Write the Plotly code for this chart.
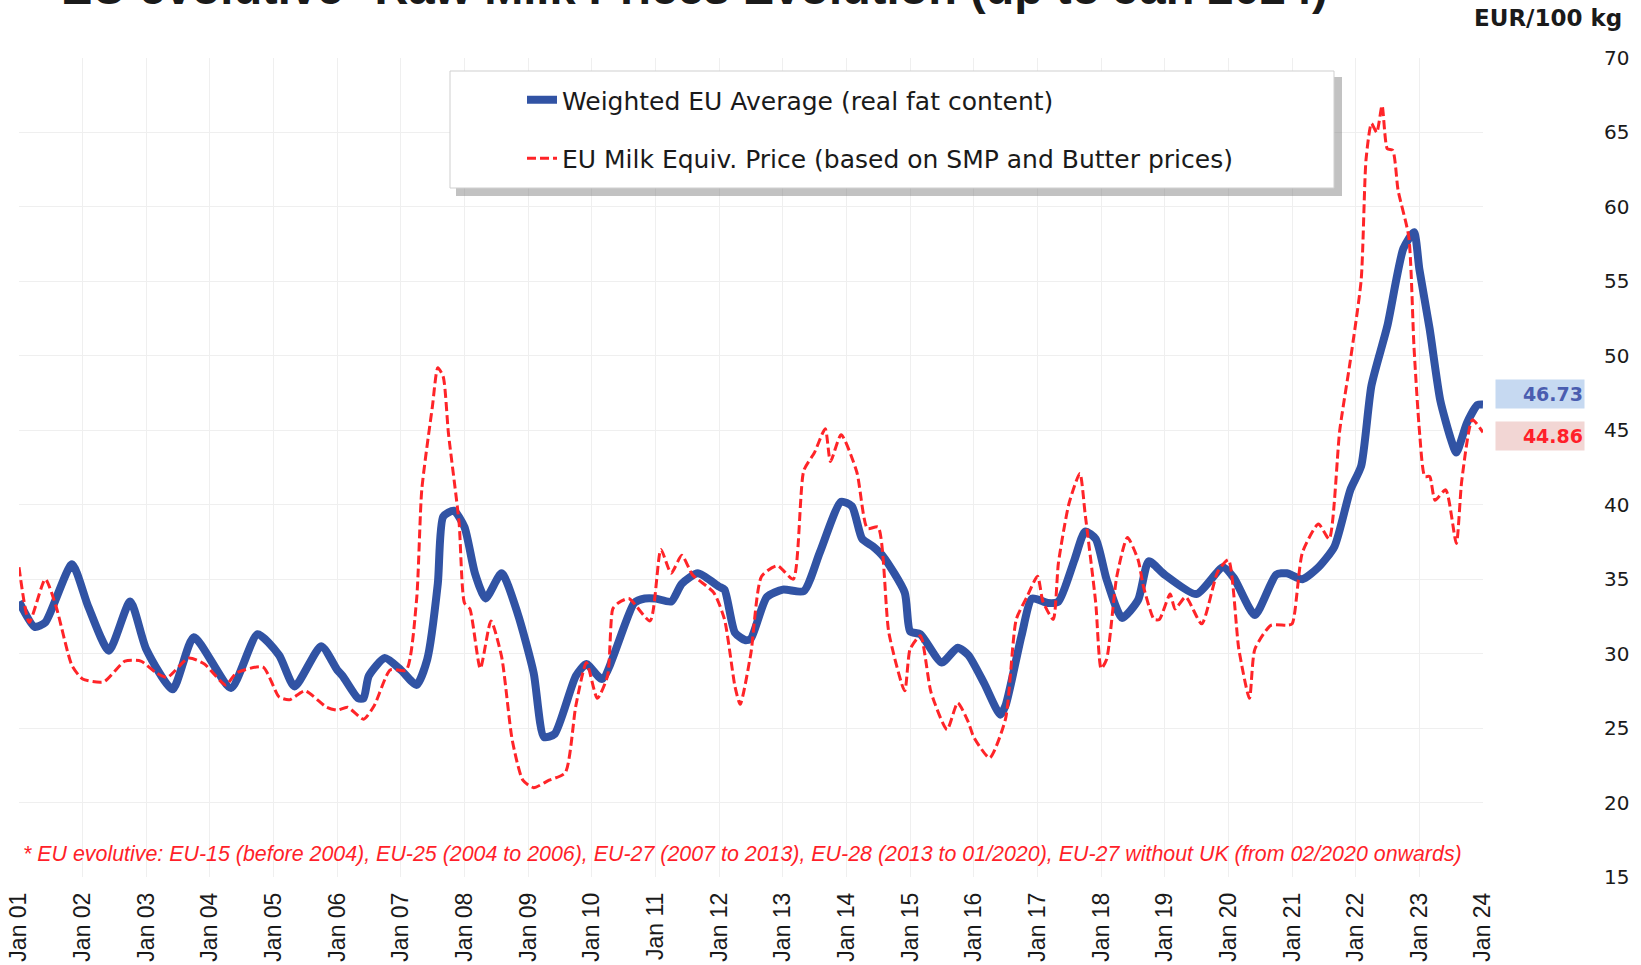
import plotly.graph_objects as go

# ---------------- data ----------------
avg_dates = ["2001-01", "2001-04", "2001-06", "2001-11", "2002-02", "2002-06", "2002-10",
             "2003-01", "2003-06", "2003-10", "2004-05", "2004-10", "2005-02", "2005-05",
             "2005-10", "2006-01", "2006-02", "2006-05", "2006-06", "2006-07", "2006-10",
             "2007-01", "2007-04", "2007-06", "2007-08", "2007-09", "2007-11", "2008-01",
             "2008-03", "2008-05", "2008-08", "2008-11", "2009-02", "2009-04", "2009-06",
             "2009-10", "2009-12", "2010-03", "2010-09", "2010-11", "2011-01", "2011-04",
             "2011-06", "2011-09", "2012-01", "2012-02", "2012-04", "2012-06", "2012-07",
             "2012-10", "2013-01", "2013-05", "2013-08", "2013-12", "2014-02", "2014-04",
             "2014-06", "2014-08", "2014-12", "2015-01", "2015-03", "2015-07", "2015-10",
             "2015-12", "2016-03", "2016-06", "2016-07", "2016-10", "2016-12", "2017-03",
             "2017-05", "2017-08", "2017-10", "2017-12", "2018-02", "2018-05", "2018-08",
             "2018-10", "2019-01", "2019-07", "2019-12", "2020-02", "2020-06", "2020-10",
             "2020-12", "2021-03", "2021-06", "2021-09", "2021-12", "2022-02", "2022-04",
             "2022-07", "2022-10", "2022-12", "2023-01", "2023-03", "2023-05", "2023-07",
             "2023-08", "2023-10", "2023-12", "2024-01"]
avg_values = [33.5, 31.8, 32.1, 36.0, 33.2, 30.2, 33.5,
              30.3, 27.6, 31.1, 27.7, 31.3, 29.9, 27.8,
              30.5, 28.9, 28.5, 27.0, 27.0, 28.5, 29.7,
              28.9, 27.9, 29.6, 34.7, 39.2, 39.6, 38.5,
              35.4, 33.7, 35.4, 32.7, 28.7, 24.4, 24.6,
              28.5, 29.3, 28.3, 33.4, 33.7, 33.7, 33.5,
              34.7, 35.4, 34.5, 34.3, 31.4, 30.9, 31.0,
              33.8, 34.3, 34.2, 36.8, 40.2, 39.9, 37.7,
              37.2, 36.5, 34.1, 31.5, 31.3, 29.4, 30.4,
              29.9, 28.0, 25.9, 26.5, 31.2, 33.7, 33.4,
              33.5, 36.3, 38.2, 37.7, 35.0, 32.4, 33.6,
              36.2, 35.3, 34.0, 35.8, 35.1, 32.6, 35.3,
              35.4, 35.0, 35.8, 37.2, 41.0, 42.6, 48.0,
              52.0, 57.2, 58.3, 55.8, 51.8, 47.0, 44.4,
              43.5, 45.5, 46.7, 46.73]

equiv_dates = ["2001-01", "2001-03", "2001-06", "2001-08", "2001-11", "2002-01", "2002-05",
               "2002-09", "2002-12", "2003-03", "2003-05", "2003-09", "2003-12", "2004-04",
               "2004-06", "2004-11", "2005-02", "2005-04", "2005-07", "2005-11", "2006-01",
               "2006-03", "2006-06", "2006-08", "2006-11", "2007-02", "2007-04", "2007-05",
               "2007-07", "2007-08", "2007-09", "2007-10", "2007-12", "2008-01", "2008-02",
               "2008-04", "2008-06", "2008-08", "2008-10", "2008-12", "2009-02", "2009-05",
               "2009-08", "2009-10", "2009-12", "2010-02", "2010-04", "2010-05", "2010-06",
               "2010-08", "2010-12", "2011-02", "2011-04", "2011-06", "2011-08", "2011-12",
               "2012-02", "2012-04", "2012-05", "2012-07", "2012-09", "2012-12", "2013-03",
               "2013-05", "2013-07", "2013-09", "2013-10", "2013-12", "2014-03", "2014-05",
               "2014-07", "2014-09", "2014-12", "2015-01", "2015-03", "2015-05", "2015-08",
               "2015-10", "2015-12", "2016-01", "2016-04", "2016-07", "2016-09", "2016-11",
               "2017-01", "2017-02", "2017-04", "2017-05", "2017-07", "2017-09", "2017-10",
               "2017-12", "2018-01", "2018-02", "2018-04", "2018-06", "2018-08", "2018-09",
               "2018-11", "2018-12", "2019-02", "2019-03", "2019-05", "2019-08", "2019-11",
               "2020-01", "2020-03", "2020-05", "2020-06", "2020-09", "2020-12", "2021-01",
               "2021-03", "2021-06", "2021-08", "2021-10", "2021-12", "2022-02", "2022-03",
               "2022-04", "2022-05", "2022-06", "2022-07", "2022-08", "2022-09", "2022-11",
               "2022-12", "2023-01", "2023-02", "2023-03", "2023-04", "2023-06", "2023-08",
               "2023-09", "2023-11", "2024-01"]
equiv_values = [35.8, 32.1, 35.0, 33.2, 29.2, 28.3, 28.1,
                29.5, 29.5, 28.7, 28.4, 29.7, 29.3, 27.9,
                28.7, 29.1, 27.1, 26.9, 27.5, 26.4, 26.2,
                26.4, 25.6, 26.5, 28.9, 28.9, 33.6, 41.0,
                46.6, 49.2, 48.6, 44.8, 38.8, 33.4, 33.0,
                29.0, 32.2, 29.8, 24.2, 21.5, 21.0, 21.5,
                22.0, 26.5, 29.4, 27.0, 28.5, 33.0, 33.4,
                33.7, 32.2, 37.0, 35.4, 36.6, 35.3, 34.1,
                32.3, 27.8, 26.6, 30.0, 35.2, 35.9, 35.0,
                42.3, 43.5, 45.1, 42.9, 44.7, 42.2, 38.4,
                38.5, 31.4, 27.5, 30.3, 31.2, 27.4, 24.9,
                26.7, 25.4, 24.4, 23.0, 25.6, 32.3, 33.8,
                35.2, 33.5, 32.3, 36.1, 40.1, 42.1, 39.4,
                33.4, 29.0, 29.6, 35.2, 37.8, 36.3, 34.5,
                32.3, 32.3, 34.0, 33.0, 33.8, 32.0, 35.5,
                36.3, 30.3, 27.0, 30.3, 31.9, 31.9, 32.0,
                36.8, 38.7, 37.7, 45.0, 49.7, 55.1, 63.2,
                65.6, 65.0, 66.8, 63.9, 63.8, 61.1, 58.0,
                50.6, 45.0, 41.9, 41.9, 40.3, 41.0, 37.4,
                41.6, 45.7, 44.86]

tick_years = list(range(2001, 2025))
tick_dates = [f"{y}-01-01" for y in tick_years]
tick_labels = [f"Jan {y % 100:02d}" for y in tick_years]

series_names = ["Weighted EU Average (real fat content)",
                "EU Milk Equiv. Price (based on SMP and Butter prices)"]
title_text = "EU evolutive* Raw Milk Prices Evolution (up to Jan 2024)"
unit_text = "EUR/100 kg"
footnote_text = ("* EU evolutive: EU-15 (before 2004), EU-25 (2004 to 2006), EU-27 (2007 to 2013), "
                 "EU-28 (2013 to 01/2020), EU-27 without UK (from 02/2020 onwards)")

BLUE = "#3153a4"
RED = "#ff2428"

# ---------------- layout geometry (pixels) ----------------
W, H = 1641, 965
ML, MR, MT, MB = 19, 158, 58, 88
PW, PH = W - ML - MR, H - MT - MB


def px_x(px):
    return (px - ML) / PW


def px_y(py):
    return (H - MB - py) / PH


fig = go.Figure()
fig.add_trace(go.Scatter(
    x=avg_dates, y=avg_values, mode="lines", name=series_names[0],
    legendgroup="a",
    line=dict(color=BLUE, width=8, shape="spline", smoothing=0.6)))
fig.add_trace(go.Scatter(
    x=equiv_dates, y=equiv_values, mode="lines", name=series_names[1],
    legendgroup="b",
    line=dict(color=RED, width=3, dash="9px,4px", shape="spline", smoothing=0.6)))

# legend frame + shadow
fig.add_shape(type="rect", xref="paper", yref="paper",
              x0=px_x(456), x1=px_x(1342), y0=px_y(196), y1=px_y(77),
              fillcolor="rgba(120,120,120,0.45)", line=dict(width=0), layer="above")
fig.add_shape(type="rect", xref="paper", yref="paper",
              x0=px_x(450), x1=px_x(1334), y0=px_y(188), y1=px_y(71),
              fillcolor="white", line=dict(color="#cfcfcf", width=1), layer="above")

# last-value labels
fig.add_annotation(xref="paper", yref="y", x=px_x(1540), y=avg_values[-1], yshift=11,
                   xanchor="center", yanchor="middle",
                   text=f"<b>{avg_values[-1]:.2f}</b>", showarrow=False, align="right",
                   width=86, height=26, bgcolor="#c6d9f1",
                   font=dict(family="DejaVu Sans", size=19, color="#4a5db0"))
fig.add_annotation(xref="paper", yref="y", x=px_x(1540), y=equiv_values[-1], yshift=-4,
                   xanchor="center", yanchor="middle",
                   text=f"<b>{equiv_values[-1]:.2f}</b>", showarrow=False, align="right",
                   width=86, height=26, bgcolor="#f2d6d4",
                   font=dict(family="DejaVu Sans", size=19, color="#ff1f2a"))

# unit label
fig.add_annotation(xref="paper", yref="paper", x=px_x(1548), y=px_y(18),
                   xanchor="center", yanchor="middle",
                   text=f"<b>{unit_text}</b>", showarrow=False,
                   font=dict(family="DejaVu Sans", size=23, color="#1a1a1a"))

# title (partly cut off at the top, as in the reference)
fig.add_annotation(xref="paper", yref="paper", x=px_x(694), y=px_y(-13),
                   xanchor="center", yanchor="middle",
                   text=f"<b>{title_text}</b>", showarrow=False,
                   font=dict(family="Liberation Sans", size=47, color="#1a1a1a"))

# footnote
fig.add_annotation(xref="paper", yref="paper", x=px_x(21), y=px_y(854),
                   xanchor="left", yanchor="middle", text=f"<i>{footnote_text}</i>",
                   showarrow=False,
                   font=dict(family="Liberation Sans", size=21.4, color="#ff1f2a"))

fig.update_layout(
    width=W, height=H, autosize=False,
    margin=dict(l=ML, r=MR, t=MT, b=MB, autoexpand=False),
    paper_bgcolor="white", plot_bgcolor="white",
    showlegend=True,
    legend=dict(x=px_x(522), y=px_y(77), xanchor="left", yanchor="top",
                bgcolor="rgba(0,0,0,0)", borderwidth=0, tracegroupgap=23,
                font=dict(family="DejaVu Sans", size=25, color="#1a1a1a")),
    xaxis=dict(type="date", range=["2001-01-01", "2024-01-01"], automargin=False,
               tickmode="array", tickvals=tick_dates, ticktext=tick_labels,
               tickangle=-90, showgrid=True, gridcolor="#efefef", gridwidth=1,
               zeroline=False, showline=False, ticks="", ticklabelstandoff=10,
               tickfont=dict(family="Liberation Sans", size=23, color="#1a1a1a")),
    yaxis=dict(range=[15, 70], dtick=5, side="right", showgrid=True, automargin=False,
               gridcolor="#efefef", gridwidth=1, zeroline=False, showline=False,
               ticks="", ticklabelstandoff=120,
               tickfont=dict(family="DejaVu Sans", size=20, color="#1a1a1a")),
)

fig.write_html("out.html",
               config={"displayModeBar": False},
               post_script="document.body.style.margin='0px';"
                           "document.body.style.overflow='hidden';")
